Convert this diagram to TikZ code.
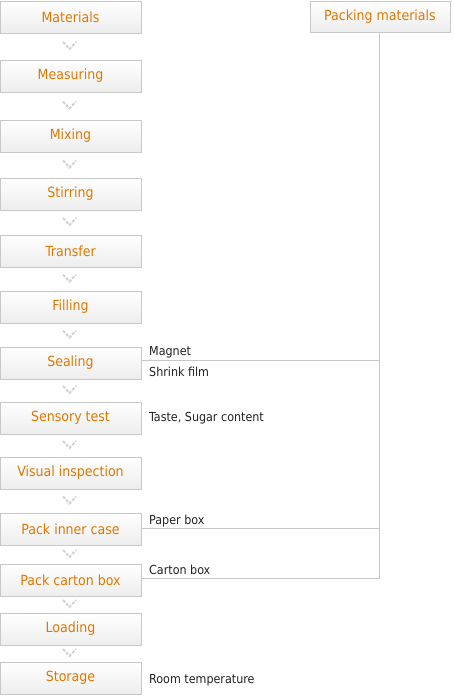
\documentclass[tikz,border=0pt]{standalone}
\usepackage{fontspec}
\setmainfont{DejaVu Sans Condensed}
\usetikzlibrary{calc}
\definecolor{boxtext}{HTML}{E07800}
\definecolor{boxline}{HTML}{C8C8C8}
\definecolor{boxfill}{HTML}{EDEDED}
\definecolor{labtext}{HTML}{222222}
\definecolor{chev}{HTML}{D2D2D2}
\tikzset{
  stepbox/.style={draw=boxline, line width=1pt, top color=white, bottom color=boxfill,
    minimum width=141pt, minimum height=32pt, inner sep=0pt, text=boxtext,
    font=\fontsize{14}{16}\selectfont},
  pmbox/.style={stepbox, minimum width=140pt, minimum height=31pt},
  lab/.style={anchor=base west, inner sep=0pt, text=labtext, font=\fontsize{12.4}{14}\selectfont},
  conn/.style={draw=boxline, line width=1pt},
  chevron/.style={draw=chev, line width=2pt, dash pattern=on 3pt off 1.5pt}
}
\begin{document}
\begin{tikzpicture}[x=1pt,y=-1pt]
\useasboundingbox (0,0) rectangle (453,696);
\node[stepbox] (materials) at (70.5,17) {Materials};
\node[stepbox] (measuring) at (70.5,76) {Measuring};
\node[stepbox] (mixing) at (70.5,136) {Mixing};
\node[stepbox] (stirring) at (70.5,194) {Stirring};
\node[stepbox] (transfer) at (70.5,251) {Transfer};
\node[stepbox] (filling) at (70.5,307) {Filling};
\node[stepbox] (sealing) at (70.5,363) {Sealing};
\node[stepbox] (sensory) at (70.5,418) {Sensory test};
\node[stepbox] (visual) at (70.5,473) {Visual inspection};
\node[stepbox] (inner) at (70.5,529) {Pack inner case};
\node[stepbox] (carton) at (70.5,580) {Pack carton box};
\node[stepbox] (loading) at (70.5,629) {Loading};
\node[stepbox] (storage) at (70.5,678) {Storage};
\node[pmbox] (pm) at (380,16.5) {Packing materials};
% chevrons between steps
\foreach \a/\b in {materials/measuring,measuring/mixing,mixing/stirring,stirring/transfer,
  transfer/filling,filling/sealing,sealing/sensory,sensory/visual,visual/inner,
  inner/carton,carton/loading,loading/storage}{
  \coordinate (m-\a) at ($(\a.south)!0.5!(\b.north)+(-1,-1)$);
  \draw[chevron] ([shift={(-6.5,-3.5)}]m-\a) -- ([shift={(0,3.5)}]m-\a) -- ([shift={(6.5,-3.5)}]m-\a);
}
% packing materials connectors
\coordinate (pmx) at ($(pm.south)+(-1,0)$);
\coordinate (sealR) at ($(sealing.east)+(0,-3)$);
\coordinate (innerR) at ($(inner.east)+(0,-1)$);
\coordinate (cartonR) at ($(carton.east)+(0,-1.5)$);
\draw[conn] (pmx) -- (pmx |- cartonR) -- (cartonR);
\draw[conn] (sealR) -- (sealR -| pmx);
\draw[conn] (innerR) -- (innerR -| pmx);
% labels
\node[lab] (magnet) at (149,355) {Magnet};
\node[lab] (shrink) at (149,376) {Shrink film};
\node[lab] (taste) at (149,421) {Taste, Sugar content};
\node[lab] (paper) at (149,524) {Paper box};
\node[lab] (cartonlab) at (149,574) {Carton box};
\node[lab] (room) at (149,683) {Room temperature};
\end{tikzpicture}
\end{document}
